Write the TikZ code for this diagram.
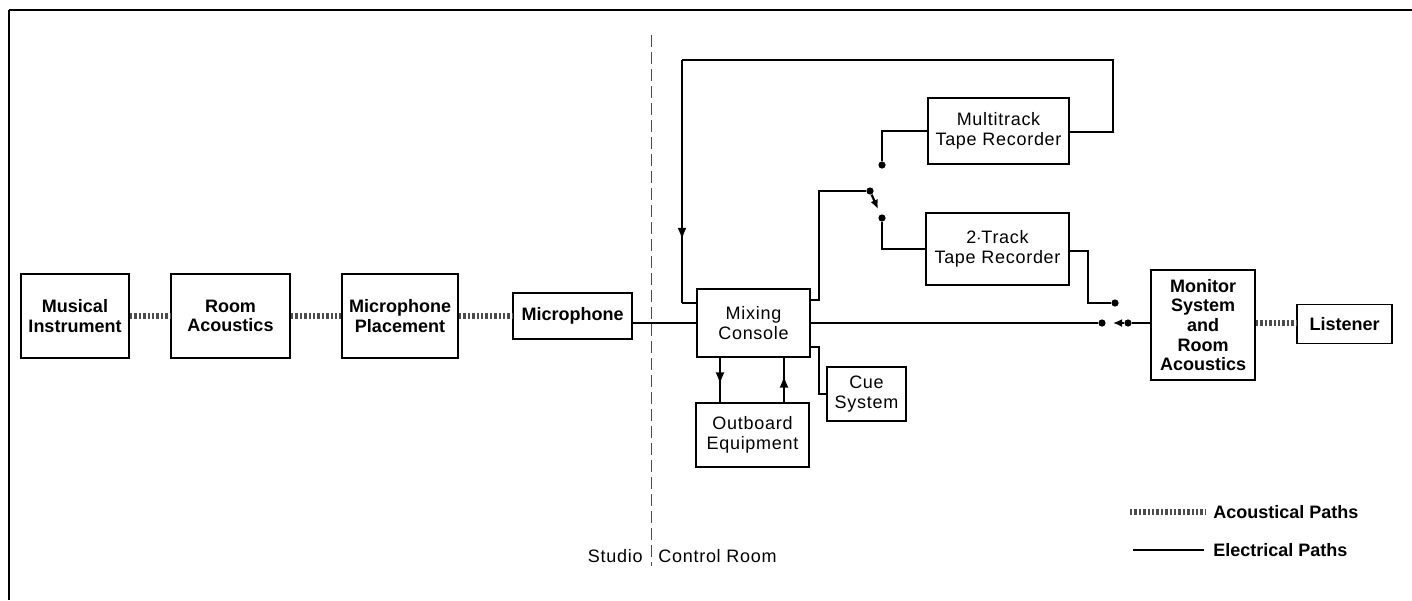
\documentclass[tikz,border=0pt]{standalone}
\usepackage{fontspec}
\setmainfont{Liberation Sans}
\newfontfamily\spacedfont{Liberation Sans}[LetterSpace=4]
\usetikzlibrary{arrows.meta,decorations.markings}
\begin{document}
\begin{tikzpicture}[x=0.5pt,y=-0.5pt,
  box/.style={draw,line width=0.9pt,inner sep=0pt,align=center,font=\spacedfont\fontsize{9}{9.8}\selectfont},
  bbox/.style={box,font=\fontsize{9}{9.8}\selectfont\bfseries},
  lbl/.style={inner sep=0pt,font=\spacedfont\fontsize{9}{9.8}\selectfont},
  blbl/.style={inner sep=0pt,font=\fontsize{9}{9.8}\selectfont\bfseries},
  wire/.style={line width=1.1pt},
  acou/.style={line width=2.8pt,dash pattern=on 1.2pt off 1pt,black!70},
  dot/.style={circle,fill,inner sep=0pt,minimum size=3.6pt},
  tip/.style={-{Latex[length=4.5pt,width=4pt]}},
  midarrow/.style={postaction={decorate},decoration={markings,mark=at position #1 with {\arrow{Latex[length=6pt,width=4.5pt]}}}},
]
\useasboundingbox (0,0) rectangle (1412,600);
% frame
\draw[line width=0.8pt] (9,10) -- (1412,10);
\draw[line width=0.8pt] (9,10) -- (9,600);
% studio / control room divider
\draw[line width=0.5pt,black!70,dash pattern=on 6pt off 2.5pt] (651,35) -- (651,566);
\node[lbl,anchor=east] (studio) at (643,556) {Studio};
\node[lbl,anchor=west] (control) at (658,556) {Control Room};

% boxes
\node[bbox,minimum width=54pt,minimum height=42pt] (mi) at (75,316) {Musical\\Instrument};
\node[bbox,minimum width=59.5pt,minimum height=42pt] (ra) at (230.5,316) {Room\\Acoustics};
\node[bbox,minimum width=58pt,minimum height=42pt] (mp) at (400,316) {Microphone\\Placement};
\node[bbox,minimum width=59.5pt,minimum height=23pt] (mic) at (572.5,316) {Microphone};
\node[box,minimum width=56.5pt,minimum height=34pt] (mc) at (753.5,323) {Mixing\\Console};
\node[box,minimum width=56.5pt,minimum height=32pt] (ob) at (752.5,435) {Outboard\\Equipment};
\node[box,minimum width=39.5pt,minimum height=27pt] (cue) at (866.5,394) {Cue\\System};
\node[box,minimum width=70.5pt,minimum height=33pt] (mt) at (998.5,131) {Multitrack\\Tape Recorder};
\node[box,minimum width=71.5pt,minimum height=36pt] (tt) at (997.5,249) {2$\cdot$Track\\Tape Recorder};
\node[bbox,minimum width=52pt,minimum height=55pt] (mon) at (1203,325) {Monitor\\System\\and\\Room\\Acoustics};
\node[bbox,minimum width=47.5pt,minimum height=19.5pt] (lis) at (1344.5,324) {Listener};

% acoustical paths
\draw[acou] (mi.east) -- (ra.west);
\draw[acou] (ra.east) -- (mp.west);
\draw[acou] (mp.east) -- (mic.west);
\draw[acou] (mon.east |- 0,323) -- (lis.west |- 0,323);

% microphone to console
\draw[wire] (mic.east |- 0,323) -- (mc.west |- 0,323);

% multitrack return loop
\coordinate (la) at (682,303);
\coordinate (lb) at (682,60);
\coordinate (lc) at (1113,60);
\coordinate (ld) at (1113,132);
\draw[wire,midarrow=0.74] (lb) -- (la);
\draw[wire] (la) -- (mc.west |- la);
\draw[wire] (mt.east |- ld) -- (ld) -- (lc) -- (lb);

% record selector switch
\coordinate (ra1) at (819,300);
\coordinate (ra2) at (819,191);
\node[dot] (p1) at (870,191) {};
\node[dot] (cmt) at (882,165) {};
\node[dot] (ctt) at (882,218) {};
\draw[wire] (mc.east |- ra1) -- (ra1) -- (ra2) -- (p1);
\draw[wire,tip,shorten >=3pt] (p1) -- (ctt);
\draw[wire] (cmt) -- (cmt |- mt.west) -- (mt.west);
\draw[wire] (ctt) -- (ctt |- tt.west) -- (tt.west);

% 2-track output to monitor selector
\coordinate (ta) at (1088,251);
\coordinate (tb) at (1088,303);
\node[dot] (c2t) at (1115,303) {};
\draw[wire] (tt.east |- ta) -- (ta) -- (tb) -- (c2t);

% monitor selector
\node[dot] (cmc) at (1102,323) {};
\node[dot] (p2) at (1128,323) {};
\draw[wire] (mc.east |- cmc) -- (cmc);
\draw[wire,tip,shorten >=3.5pt] (p2) -- (cmc);
\draw[wire] (p2) -- (mon.west |- p2);

% outboard loop
\draw[wire,midarrow=0.6] (mc.south -| 720,0) -- (ob.north -| 720,0);
\draw[wire,midarrow=0.6] (ob.north -| 784,0) -- (mc.south -| 784,0);

% cue
\coordinate (ca) at (819,347);
\coordinate (cb) at (819,394);
\draw[wire] (mc.east |- ca) -- (ca) -- (cb) -- (cue.west);

% legend
\coordinate (ac1) at (1130,512);
\coordinate (ac2) at (1205,512);
\coordinate (el1) at (1133,550);
\coordinate (el2) at (1204,550);
\draw[acou] (ac1) -- (ac2);
\draw[wire] (el1) -- (el2);
\node[blbl,anchor=west] (acl) at (1213,512) {Acoustical Paths};
\node[blbl,anchor=west] (ell) at (1213,550) {Electrical Paths};
\end{tikzpicture}
\end{document}
